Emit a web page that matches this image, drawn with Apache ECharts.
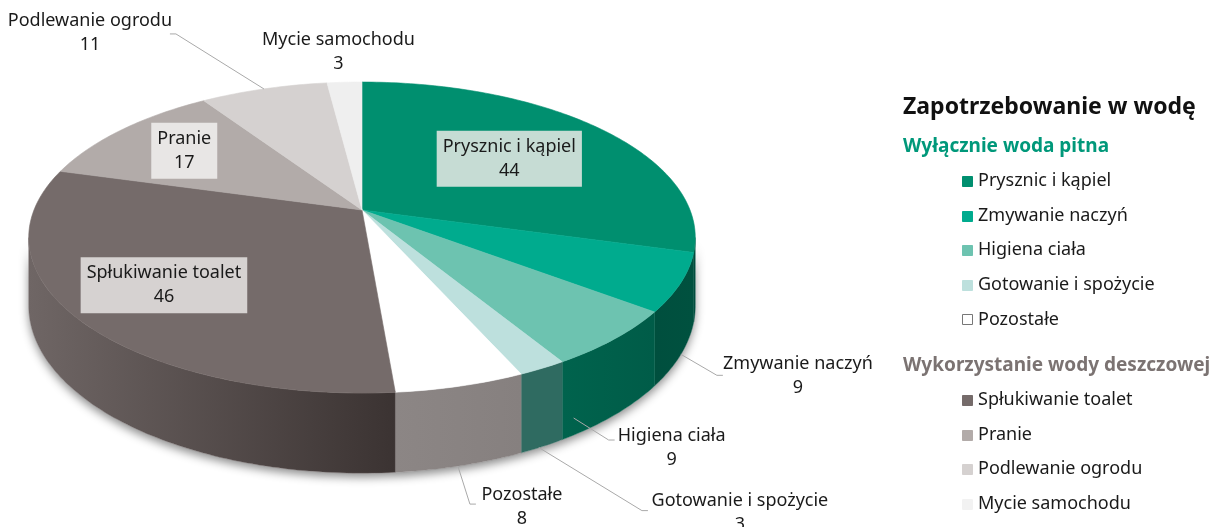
<!DOCTYPE html>
<html>
<head>
<meta charset="utf-8">
<script src="https://cdn.jsdelivr.net/npm/echarts@6/dist/echarts.min.js"></script>
<style>
html, body { margin: 0; padding: 0; background: #fff; }
#main { width: 1213px; height: 527px; }
</style>
</head>
<body>
<div id="main"></div>
<script>
// data
var chartTitle = 'Zapotrzebowanie w wodę';
var categories = ['Prysznic i kąpiel', 'Zmywanie naczyń', 'Higiena ciała', 'Gotowanie i spożycie', 'Pozostałe',
                  'Spłukiwanie toalet', 'Pranie', 'Podlewanie ogrodu', 'Mycie samochodu'];
var values = [44, 9, 9, 3, 8, 46, 17, 11, 3];
var groupTitles = ['Wyłącznie woda pitna', 'Wykorzystanie wody deszczowej'];
var groupSizes = [5, 4];

// colours
var topColors = ['#008f6f', '#00ab8e', '#6dc3b0', '#bde0dd', '#ffffff', '#756b6a', '#b2aba9', '#d5d1d0', '#efefef'];
var sideColors = [
    ['#004f3e', '#004f3e'], ['#004f3e', '#00513f'], ['#00634d', '#005c48'], ['#2f6b61', '#2f6b61'],
    ['#8c8685', '#86807f'], ['#6f6665', '#3b3332'], ['#8a8382', '#8a8382'], ['#a9a4a3', '#a9a4a3'], ['#bbb', '#bbb']
];
var groupColors = ['#00987a', '#7b7372'];
var legendSwatch = ['#008f6f', '#00ab8e', '#6dc3b0', '#bde0dd', '#ffffff', '#756b6a', '#b2aba9', '#d5d1d0', '#f2f2f2'];

// label placement (style only)
var labelCfg = [
    { inside: true, f: 0.6, bg: '#c6dcd4' },
    { t: 0.5, d: 1, line: [36, 21], text: [81, 1] },
    { t: 0.9, d: 0.78, line: [35, 22], text: [63, 8] },
    { t: 0.58, d: 1, line: [103, 63], text: [98, 2] },
    { t: 0.52, d: 1, line: [12, 38], text: [52, 3] },
    { inside: true, f: 0.72, bg: '#d6d2d1' },
    { inside: true, f: 0.72, bg: '#e8e6e5' },
    { t: 0.5, d: 0, line: [-88, -55], text: [-86, -1] },
    { t: 0.5, d: 0, text: [-6, -30] }
];

var FONT = '"Noto Sans", sans-serif';
var CX = 362, CY = 210, RX = 328, RY = 150.6, PERSP = 0.177, DEPTH = 66;
var SIDE_FROM = Math.acos(-PERSP) * 180 / Math.PI;
var SIDE_TO = 360 - SIDE_FROM;

var total = values.reduce(function (a, b) { return a + b; }, 0);
var cum = [0];
values.forEach(function (v, i) { cum.push(cum[i] + v); });

function proj(alpha, f, d) {
    var a = alpha * Math.PI / 180;
    var u = Math.sin(a) * f, v = -Math.cos(a) * f;
    var s = 1 / (1 - PERSP * v);
    return [CX + RX * u * s, CY + RY * v * s + DEPTH * d * s];
}

function arc(a0, a1, d) {
    var pts = [];
    var n = Math.max(2, Math.ceil(Math.abs(a1 - a0)));
    for (var j = 0; j <= n; j++) pts.push(proj(a0 + (a1 - a0) * j / n, 1, d));
    return pts;
}

function renderItem(params, api) {
    var i = params.dataIndex;
    var a0 = cum[i] / total * 360;
    var a1 = (cum[i] + api.value(0)) / total * 360;
    var children = [];

    if (i === 0) {
        // silhouette carrying the drop shadow
        var sil = arc(SIDE_FROM, SIDE_TO, 0).concat(arc(SIDE_TO, SIDE_FROM, 1));
        children.push({
            type: 'polygon', shape: { points: sil }, z2: 1,
            style: { fill: '#fff', shadowBlur: 10, shadowOffsetY: 4, shadowColor: 'rgba(0,0,0,0.45)' }
        });
    }

    var top = [proj(0, 0, 0)].concat(arc(a0, a1, 0));
    children.push({
        type: 'polygon', shape: { points: top }, z2: 20,
        style: { fill: topColors[i], stroke: topColors[i], lineWidth: 0.6 }
    });

    var s0 = Math.max(a0, SIDE_FROM), s1 = Math.min(a1, SIDE_TO);
    if (s1 > s0) {
        var side = arc(s0, s1, 0).concat(arc(s1, s0, 1));
        var xs = side.map(function (p) { return p[0]; });
        var xl = Math.min.apply(null, xs), xr = Math.max.apply(null, xs);
        children.push({
            type: 'polygon', shape: { points: side }, z2: 10,
            style: {
                fill: new echarts.graphic.LinearGradient(xl, 0, xr + 0.01, 0, [
                    { offset: 0, color: sideColors[i][0] },
                    { offset: 1, color: sideColors[i][1] }
                ], true),
                stroke: sideColors[i][0], lineWidth: 0.4
            }
        });
    }

    var cfg = labelCfg[i];
    var txt = categories[i] + '\n' + api.value(0);
    if (cfg.inside) {
        var p = proj((a0 + a1) / 2, cfg.f, 0);
        children.push({
            type: 'text', x: p[0], y: p[1], z2: 40,
            style: {
                text: txt, font: '18px ' + FONT, fill: '#1a1a1a', align: 'center', verticalAlign: 'middle',
                lineHeight: 24, backgroundColor: cfg.bg, padding: [4, 6]
            }
        });
    } else {
        var an = proj(a0 + (a1 - a0) * cfg.t, 1, cfg.d);
        var end = an;
        if (cfg.line) {
            end = [an[0] + cfg.line[0], an[1] + cfg.line[1]];
            var tail = cfg.text[0] > 0 ? 6 : -6;
            children.push({
                type: 'polyline', z2: 30,
                shape: { points: [an, end, [end[0] + tail, end[1]]] },
                style: { stroke: '#a9a9a9', lineWidth: 1, fill: null }
            });
        }
        children.push({
            type: 'text', x: end[0] + cfg.text[0], y: end[1] + cfg.text[1], z2: 40,
            style: {
                text: txt, font: '18px ' + FONT, fill: '#1a1a1a', align: 'center', verticalAlign: 'middle',
                lineHeight: 24
            }
        });
    }
    return { type: 'group', children: children };
}

// legend as graphic elements built from the arrays
var legendEls = [];
legendEls.push({
    type: 'text', x: 903, y: 107,
    style: { text: chartTitle, font: 'bold 23px ' + FONT, fill: '#111', verticalAlign: 'middle' }
});
var y = 147, idx = 0;
groupTitles.forEach(function (g, gi) {
    legendEls.push({
        type: 'text', x: 903, y: y,
        style: { text: g, font: 'bold 19px ' + FONT, fill: groupColors[gi], verticalAlign: 'middle' }
    });
    y += 34;
    for (var k = 0; k < groupSizes[gi]; k++) {
        legendEls.push({
            type: 'rect', shape: { x: 962.5, y: Math.round(y - 5) + 0.5, width: 10, height: 10 },
            style: { fill: legendSwatch[idx], stroke: idx === 4 ? '#777' : legendSwatch[idx], lineWidth: 1 }
        });
        legendEls.push({
            type: 'text', x: 978, y: y,
            style: { text: categories[idx], font: '18px ' + FONT, fill: '#1a1a1a', verticalAlign: 'middle' }
        });
        idx++;
        y += 34.6;
    }
    y += 12;
});

var chart = echarts.init(document.getElementById('main'));
var option = {
    animation: false,
    graphic: legendEls,
    series: [{
        type: 'custom',
        name: chartTitle,
        coordinateSystem: 'none',
        renderItem: renderItem,
        data: values.map(function (v, i) { return { name: categories[i], value: [v] }; })
    }]
};
chart.setOption(option);
window.addEventListener('resize', function () { chart.resize(); });
</script>
</body>
</html>
